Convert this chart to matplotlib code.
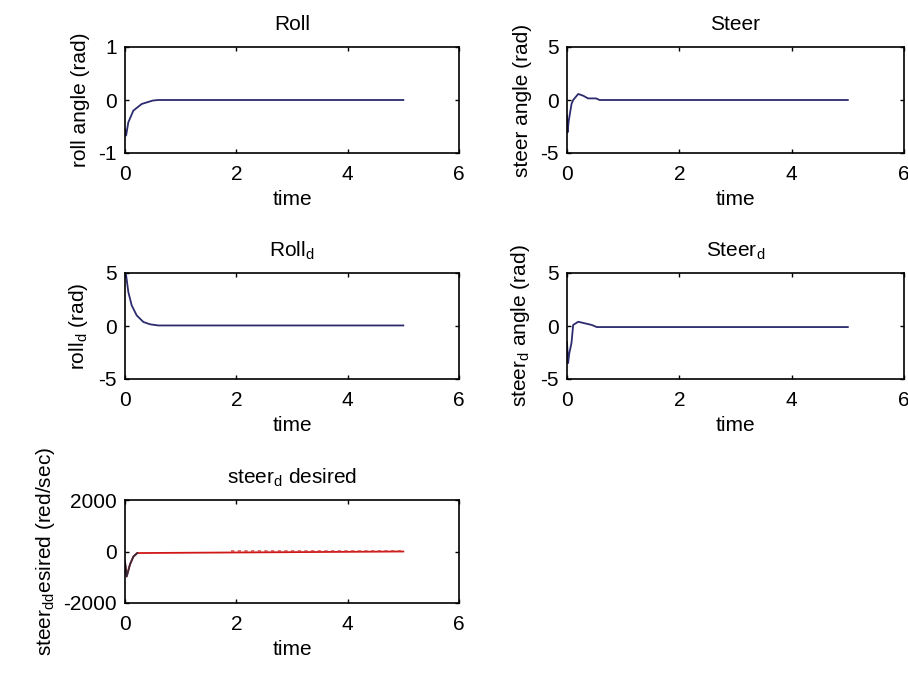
import numpy as np
import matplotlib
matplotlib.use('Agg')
import matplotlib.pyplot as plt

plt.rcParams['font.family'] = ['Liberation Sans Narrow', 'Liberation Sans', 'DejaVu Sans']
plt.rcParams['mathtext.default'] = 'regular'
plt.rcParams['axes.unicode_minus'] = False
plt.rcParams['font.size'] = 15

# values
t_roll = [0.0, 0.02, 0.06, 0.15, 0.3, 0.5, 0.6, 5.0]
roll = [-0.55, -0.67, -0.42, -0.2, -0.075, -0.01, 0.0, 0.0]

t_steer = [0.0, 0.01, 0.03, 0.08, 0.11, 0.2, 0.29, 0.375, 0.52, 0.58, 5.0]
steer = [-1.5, -3.05, -2.0, -0.38, 0.0, 0.57, 0.4, 0.15, 0.15, 0.0, 0.0]

t_rolld = [0.0, 0.02, 0.06, 0.12, 0.21, 0.33, 0.45, 0.6, 5.0]
rolld = [5.0, 4.8, 3.2, 1.95, 1.0, 0.38, 0.16, 0.05, 0.05]

t_steerd = [0.0, 0.02, 0.04, 0.08, 0.11, 0.2, 0.32, 0.44, 0.53, 5.0]
steerd = [-1.5, -3.5, -2.6, -1.6, 0.1, 0.4, 0.25, 0.1, -0.1, -0.1]

t_dd = [0.0, 0.03, 0.09, 0.15, 0.22, 5.0]
steerdd = [-400, -970, -500, -200, -60, 0]
t_dd_noise = [1.9, 5.0]
dd_noise = [30, 30]

navy = '#2b2b6e'
red = '#d01818'

W, H = 908, 677
fig = plt.figure(figsize=(W / 100, H / 100), dpi=100)


def make_axes(x0, y0, x1, y1):
    return fig.add_axes([x0 / W, 1 - y1 / H, (x1 - x0) / W, (y1 - y0) / H])


def style(ax, ylim, yticks, title, ylabel, ypad):
    ax.set_xlim(0, 6)
    ax.set_xticks([0, 2, 4, 6])
    ax.set_ylim(*ylim)
    ax.set_yticks(yticks)
    ax.tick_params(direction='in', length=3, width=1, top=True, right=True, pad=6)
    ax.tick_params(axis='x', pad=9)
    for s in ax.spines.values():
        s.set_linewidth(1.2)
    ax.set_title(title, fontsize=15, pad=12)
    ax.set_xlabel('time', fontsize=15, labelpad=4)
    ax.set_ylabel(ylabel, fontsize=15, labelpad=ypad)


ax1 = make_axes(125, 47, 459, 153)
ax1.plot(t_roll, roll, color=navy, lw=1.3)
style(ax1, (-1, 1), [-1, 0, 1], 'Roll', 'roll angle (rad)', 6)

ax2 = make_axes(567, 47, 904, 153)
ax2.plot(t_steer, steer, color=navy, lw=1.3)
style(ax2, (-5, 5), [-5, 0, 5], 'Steer', 'steer angle (rad)', 6)

ax3 = make_axes(125, 273, 459, 379)
ax3.plot(t_rolld, rolld, color=navy, lw=1.3)
style(ax3, (-5, 5), [-5, 0, 5], 'Roll$_d$', 'roll$_d$ (rad)', 6)

ax4 = make_axes(567, 273, 904, 379)
ax4.plot(t_steerd, steerd, color=navy, lw=1.3)
style(ax4, (-5, 5), [-5, 0, 5], 'Steer$_d$', 'steer$_d$ angle (rad)', 6)

ax5 = make_axes(125, 500, 459, 603)
ax5.plot(t_dd, steerdd, color=red, lw=1.3)
ax5.plot(t_dd[:5], steerdd[:5], color='#3a2a3a', lw=1.3)
ax5.plot(t_dd_noise, dd_noise, color='#c83030', lw=1.2, alpha=0.8, ls=(0, (2, 2)))
style(ax5, (-2000, 2000), [-2000, 0, 2000], 'steer$_d$ desired',
      'steer$_{dd}$esired (red/sec)', 4)

fig.savefig('out.png', dpi=100, facecolor='white')
